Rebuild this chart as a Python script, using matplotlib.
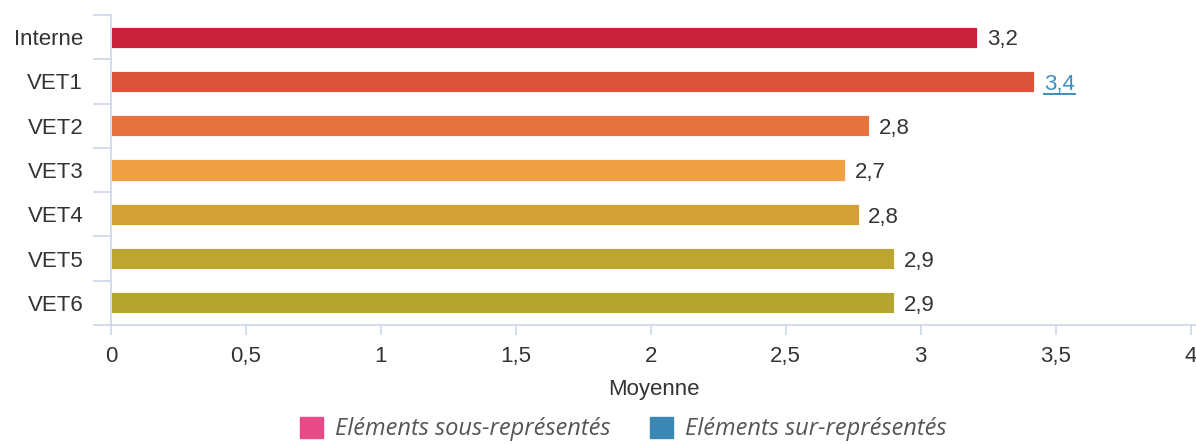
import matplotlib.pyplot as plt
from matplotlib.patches import Patch
from matplotlib.lines import Line2D

plt.rcParams['font.family'] = ['Liberation Sans', 'DejaVu Sans']

categories = ['Interne', 'VET1', 'VET2', 'VET3', 'VET4', 'VET5', 'VET6']
moyennes = [3.21, 3.42, 2.81, 2.72, 2.77, 2.90, 2.90]
colors = ['#c9213a', '#d9543a', '#e4733e', '#efa044', '#d3a036', '#bda532', '#b3a530']
highlighted = ['VET1']  # value shown as a link
x_ticks = [0, 0.5, 1, 1.5, 2, 2.5, 3, 3.5, 4]
legend_labels = ['Eléments sous-représentés', 'Eléments sur-représentés']
legend_colors = ['#e84a87', '#3a87b4']

axis_col = '#ccd6eb'
text_col = '#333333'
fs = 16

W, H = 1196, 444
fig = plt.figure(figsize=(W / 100, H / 100), dpi=100)
ax = fig.add_axes([111 / W, (H - 325) / H, (W - 111) / W, 310 / H])

pos = list(range(len(categories)))
ax.barh(pos, moyennes, height=0.475, color=colors, edgecolor='white', linewidth=0.6)

ax.set_xlim(0, 4.02)
ax.set_ylim(len(categories) - 0.5, -0.5)

for p, cat, v in zip(pos, categories, moyennes):
    lab = f'{v:.1f}'.replace('.', ',')
    col = '#3b8ec2' if cat in highlighted else text_col
    t = ax.annotate(lab, (v, p), xytext=(7, -2), textcoords='offset points',
                    va='center', ha='left', fontsize=fs, color=col)
    if cat in highlighted:
        fig.canvas.draw()
        bb = t.get_window_extent()
        fig.add_artist(Line2D([bb.x0 / W, bb.x1 / W], [(bb.y0 + 1) / H] * 2,
                              color=col, lw=1.4, transform=fig.transFigure))

# axes styling
for s in ['top', 'right']:
    ax.spines[s].set_visible(False)
for s in ['left', 'bottom']:
    ax.spines[s].set_color(axis_col)
    ax.spines[s].set_linewidth(1.2)

ax.set_xticks(x_ticks)
ax.set_xticklabels([str(t).replace('.', ',').replace(',0', '') for t in x_ticks])
ax.tick_params(axis='x', length=7, width=1.2, color=axis_col, pad=8,
               labelsize=fs, labelcolor=text_col)

ax.set_yticks(pos)
ax.set_yticklabels(categories)
ax.tick_params(axis='y', which='major', length=0, pad=20, labelsize=fs, labelcolor=text_col)
ax.set_yticks([p - 0.5 for p in pos] + [len(pos) - 0.5], minor=True)
ax.tick_params(axis='y', which='minor', length=13, width=1.2, color=axis_col)

ax.set_xlabel('Moyenne', fontsize=fs, color=text_col, labelpad=9)

handles = [Patch(facecolor=c, edgecolor=c) for c in legend_colors]
fig.legend(handles, legend_labels, loc='center', bbox_to_anchor=(0.521, 0.034),
           ncol=2, frameon=False, handlelength=1.0, handleheight=1.0,
           handletextpad=0.5, columnspacing=1.65,
           prop={'family': ['Open Sans', 'DejaVu Sans'], 'style': 'italic', 'size': 17},
           labelcolor='#555555')

fig.savefig('out.png', dpi=100, facecolor='white')
